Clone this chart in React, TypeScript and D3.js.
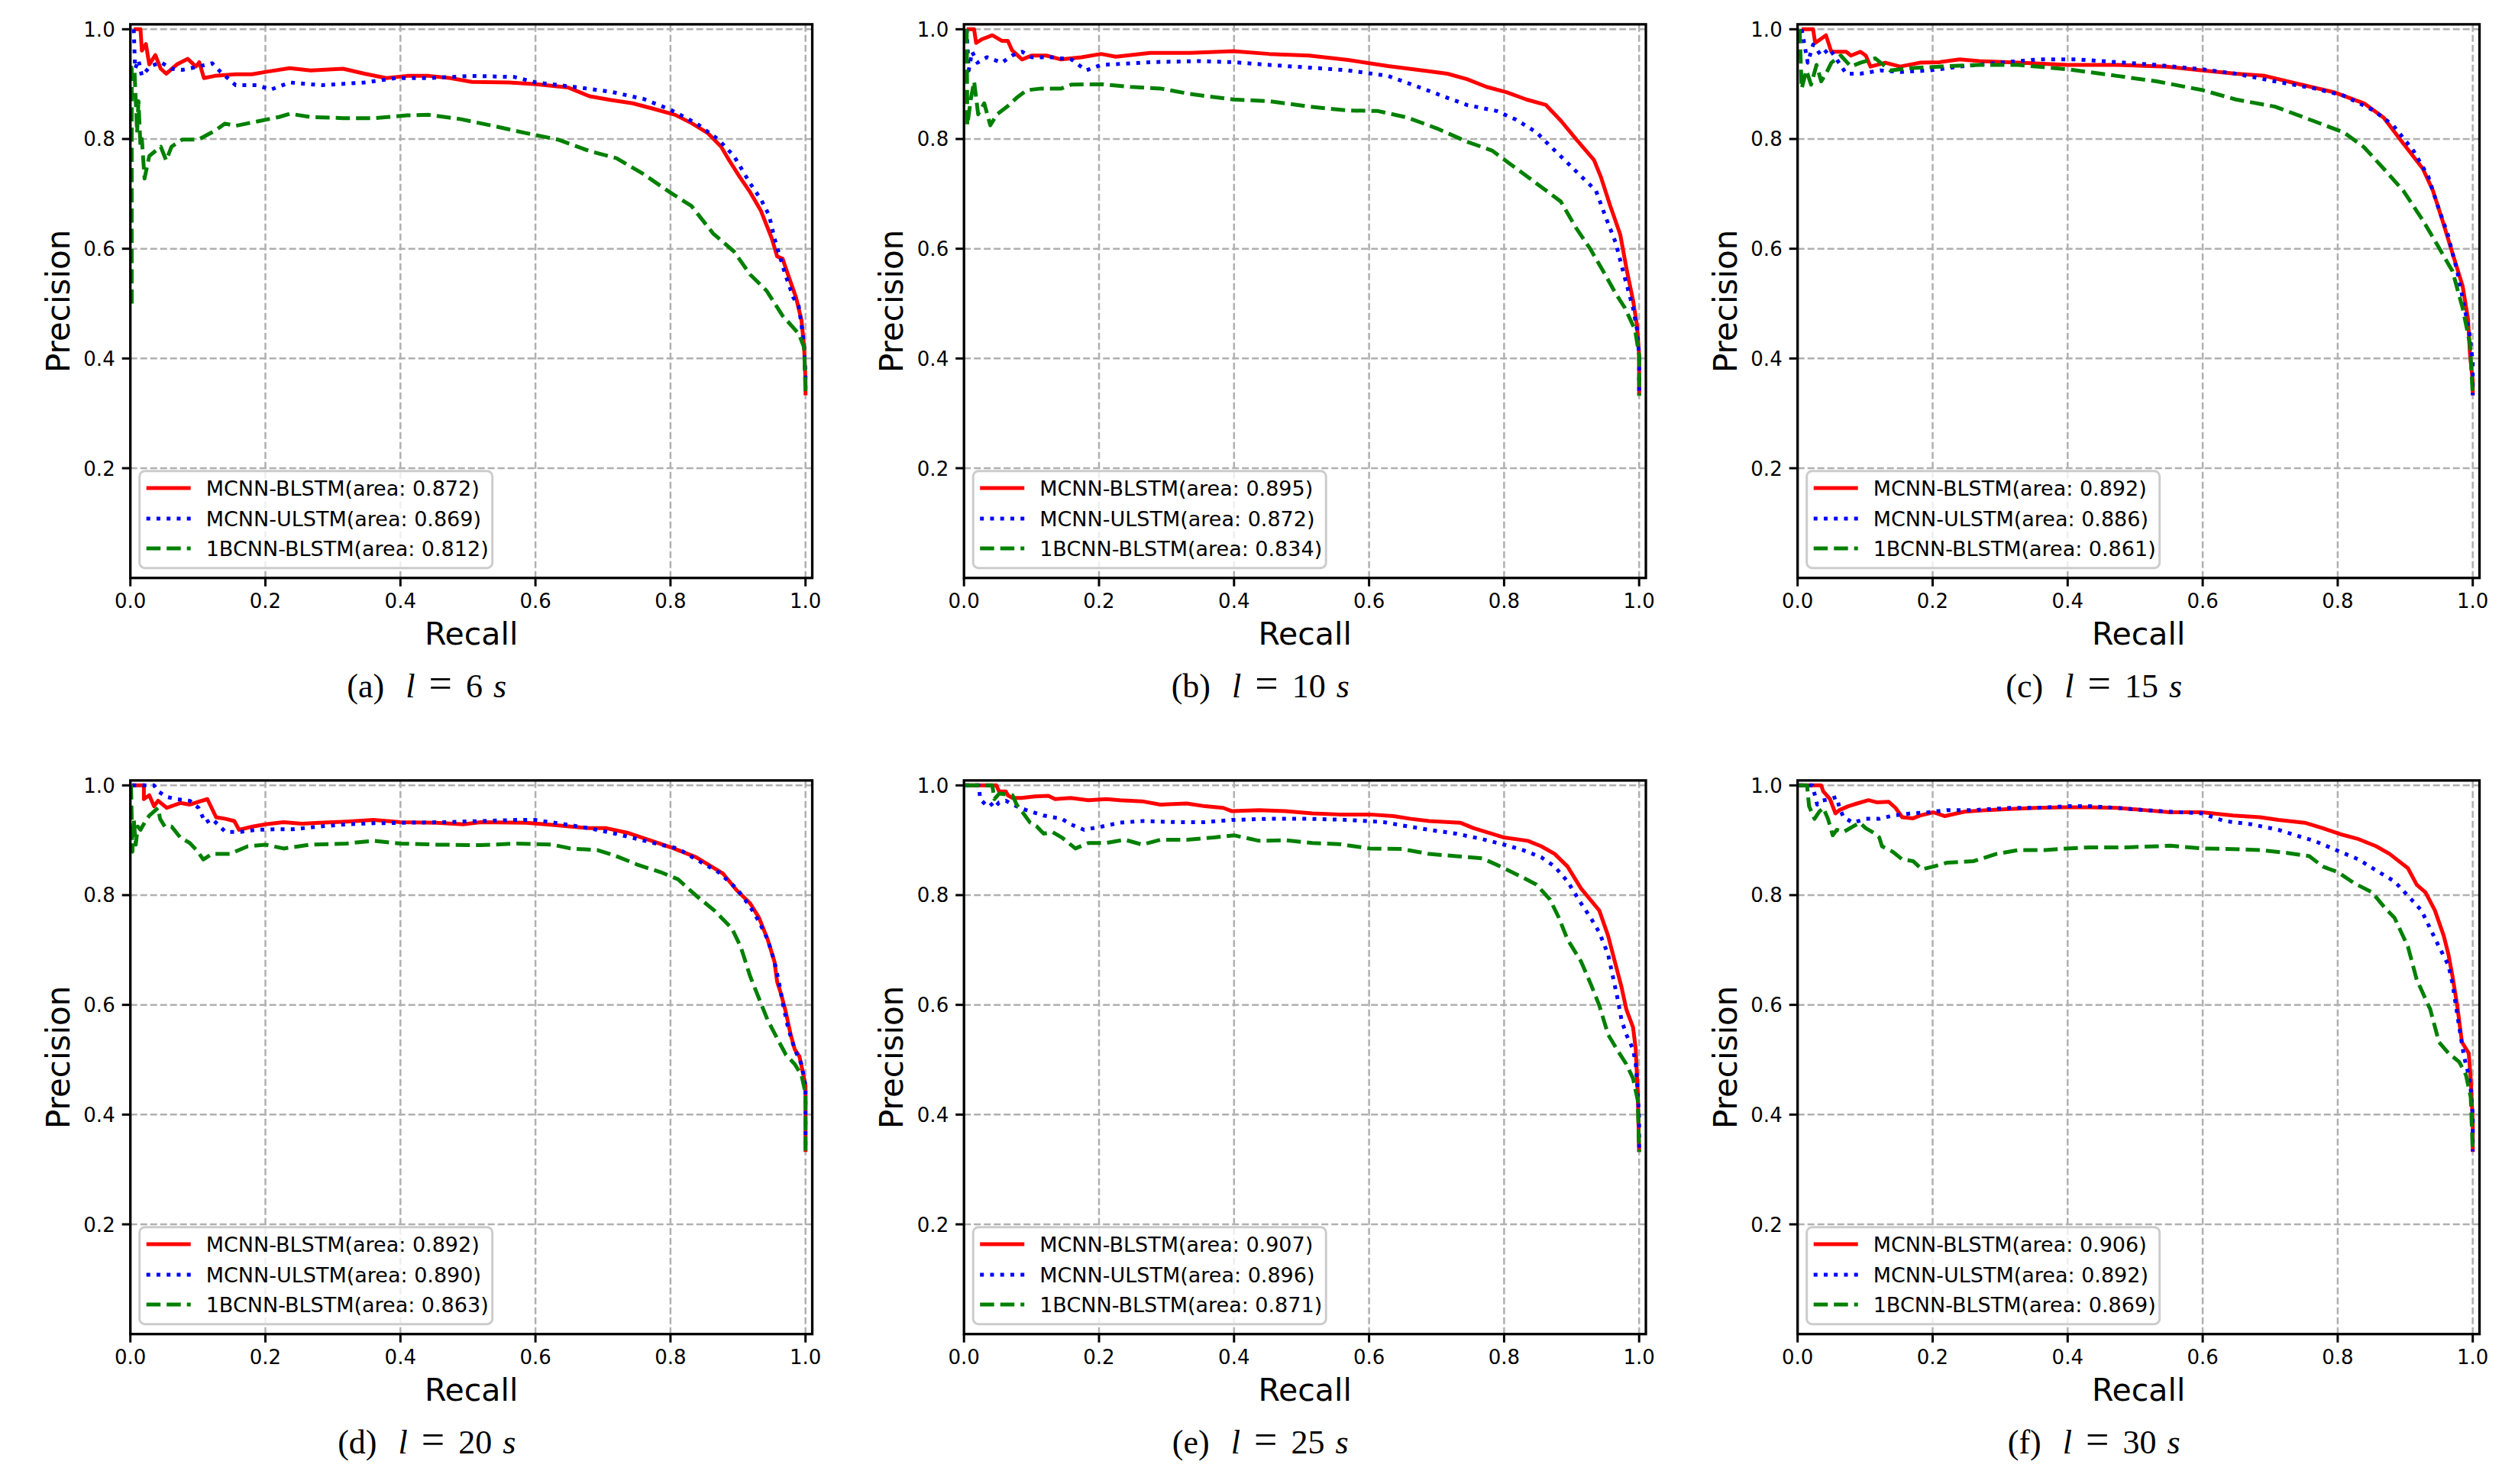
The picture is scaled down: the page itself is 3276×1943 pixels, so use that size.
import React from "react";
import * as d3 from "d3";

type Pt = [number, number];

// ---- tick labels / captions / legends ----
const xTicks = [0, 0.2, 0.4, 0.6, 0.8, 1.0];
const yTicks = [0.2, 0.4, 0.6, 0.8, 1.0];
const panelLetters = ["a", "b", "c", "d", "e", "f"];
const segmentSeconds = [6, 10, 15, 20, 25, 30];
const seriesNames = ["MCNN-BLSTM", "MCNN-ULSTM", "1BCNN-BLSTM"];
const areaBLSTM = [0.872, 0.895, 0.892, 0.892, 0.907, 0.906];
const areaULSTM = [0.869, 0.872, 0.886, 0.89, 0.896, 0.892];
const area1BCNN = [0.812, 0.834, 0.861, 0.863, 0.871, 0.869];

// ---- (a) l = 6 s ----
const a_BLSTM: Pt[] = [[0.005,1],[0.015,1],[0.017,0.961],[0.023,0.973],[0.028,0.936],[0.037,0.953],[0.045,0.928],[0.053,0.919],[0.069,0.936],[0.085,0.946],[0.097,0.932],[0.102,0.94],[0.109,0.911],[0.125,0.915],[0.156,0.918],[0.18,0.918],[0.204,0.923],[0.236,0.929],[0.267,0.925],[0.315,0.928],[0.347,0.919],[0.379,0.911],[0.41,0.915],[0.442,0.915],[0.474,0.911],[0.506,0.904],[0.561,0.903],[0.601,0.9],[0.648,0.894],[0.68,0.878],[0.712,0.871],[0.744,0.865],[0.775,0.855],[0.807,0.844],[0.831,0.829],[0.855,0.811],[0.875,0.786],[0.887,0.761],[0.902,0.732],[0.918,0.703],[0.934,0.669],[0.95,0.619],[0.958,0.586],[0.966,0.582],[0.974,0.553],[0.986,0.511],[0.994,0.47],[0.998,0.42],[1.0,0.357],[1.0,0.333]];
const a_ULSTM: Pt[] = [[0.005,1],[0.007,0.928],[0.012,0.944],[0.017,0.915],[0.029,0.932],[0.045,0.94],[0.061,0.928],[0.077,0.926],[0.101,0.932],[0.121,0.938],[0.133,0.923],[0.156,0.898],[0.188,0.898],[0.208,0.89],[0.236,0.903],[0.283,0.898],[0.347,0.903],[0.394,0.911],[0.442,0.911],[0.506,0.915],[0.569,0.913],[0.601,0.903],[0.664,0.894],[0.712,0.886],[0.76,0.873],[0.799,0.854],[0.839,0.828],[0.871,0.799],[0.894,0.769],[0.918,0.719],[0.934,0.69],[0.946,0.661],[0.954,0.619],[0.962,0.586],[0.97,0.553],[0.982,0.511],[0.99,0.495],[0.995,0.453],[0.998,0.42],[1.0,0.37],[1.0,0.333]];
const a_1BCNN: Pt[] = [[0.002,0.5],[0.002,0.93],[0.006,0.928],[0.01,0.811],[0.012,0.869],[0.015,0.786],[0.017,0.8],[0.021,0.728],[0.028,0.769],[0.037,0.778],[0.045,0.786],[0.053,0.761],[0.061,0.786],[0.077,0.799],[0.101,0.799],[0.125,0.815],[0.14,0.828],[0.156,0.824],[0.188,0.832],[0.22,0.84],[0.236,0.846],[0.267,0.84],[0.315,0.838],[0.363,0.838],[0.41,0.843],[0.442,0.844],[0.49,0.836],[0.537,0.824],[0.585,0.811],[0.633,0.799],[0.68,0.778],[0.72,0.765],[0.76,0.736],[0.799,0.703],[0.831,0.678],[0.863,0.628],[0.894,0.595],[0.918,0.553],[0.942,0.524],[0.966,0.478],[0.99,0.445],[0.998,0.42],[1.0,0.336]];

// ---- (b) l = 10 s ----
const b_BLSTM: Pt[] = [[0.004,1],[0.015,1],[0.018,0.975],[0.027,0.982],[0.042,0.989],[0.056,0.979],[0.065,0.979],[0.071,0.962],[0.086,0.945],[0.1,0.952],[0.122,0.952],[0.144,0.945],[0.174,0.949],[0.203,0.955],[0.225,0.95],[0.276,0.957],[0.335,0.957],[0.399,0.96],[0.452,0.955],[0.511,0.952],[0.569,0.944],[0.628,0.933],[0.686,0.924],[0.716,0.919],[0.745,0.909],[0.774,0.895],[0.804,0.885],[0.833,0.872],[0.862,0.862],[0.885,0.832],[0.907,0.799],[0.933,0.762],[0.943,0.732],[0.957,0.679],[0.972,0.626],[0.982,0.559],[0.991,0.506],[0.997,0.459],[1.0,0.406],[1.0,0.333]];
const b_ULSTM: Pt[] = [[0.004,1],[0.007,0.925],[0.012,0.959],[0.02,0.939],[0.034,0.949],[0.056,0.939],[0.071,0.952],[0.086,0.959],[0.1,0.949],[0.13,0.949],[0.159,0.945],[0.181,0.925],[0.203,0.935],[0.276,0.94],[0.349,0.942],[0.399,0.94],[0.452,0.935],[0.525,0.929],[0.569,0.925],[0.628,0.915],[0.657,0.902],[0.686,0.889],[0.716,0.875],[0.745,0.862],[0.789,0.851],[0.818,0.835],[0.848,0.812],[0.87,0.785],[0.892,0.759],[0.914,0.732],[0.936,0.706],[0.95,0.659],[0.965,0.612],[0.979,0.546],[0.991,0.492],[0.997,0.452],[1.0,0.406],[1.0,0.333]];
const b_1BCNN: Pt[] = [[0.004,1],[0.005,0.825],[0.01,0.872],[0.015,0.905],[0.021,0.845],[0.03,0.865],[0.039,0.825],[0.049,0.845],[0.064,0.859],[0.078,0.875],[0.093,0.889],[0.115,0.892],[0.144,0.892],[0.159,0.899],[0.203,0.9],[0.247,0.895],[0.291,0.892],[0.335,0.882],[0.399,0.872],[0.452,0.869],[0.511,0.859],[0.569,0.852],[0.613,0.851],[0.657,0.839],[0.701,0.819],[0.745,0.795],[0.782,0.779],[0.804,0.759],[0.848,0.719],[0.884,0.686],[0.906,0.639],[0.928,0.599],[0.95,0.552],[0.965,0.519],[0.979,0.492],[0.994,0.452],[1.0,0.406],[1.0,0.332]];

// ---- (c) l = 15 s ----
const c_BLSTM: Pt[] = [[0.006,1],[0.023,1],[0.026,0.975],[0.042,0.989],[0.05,0.959],[0.072,0.959],[0.079,0.952],[0.093,0.959],[0.101,0.952],[0.108,0.932],[0.13,0.939],[0.152,0.932],[0.181,0.939],[0.21,0.94],[0.24,0.945],[0.269,0.942],[0.327,0.939],[0.4,0.935],[0.473,0.935],[0.546,0.932],[0.6,0.925],[0.649,0.919],[0.692,0.915],[0.736,0.902],[0.795,0.885],[0.839,0.865],[0.868,0.839],[0.897,0.792],[0.926,0.746],[0.941,0.706],[0.955,0.652],[0.97,0.592],[0.985,0.532],[0.993,0.472],[0.996,0.406],[1.0,0.359],[1.0,0.333]];
const c_ULSTM: Pt[] = [[0.006,1],[0.015,0.939],[0.023,0.972],[0.035,0.952],[0.047,0.965],[0.058,0.945],[0.072,0.919],[0.093,0.919],[0.123,0.925],[0.152,0.922],[0.196,0.925],[0.24,0.932],[0.298,0.939],[0.356,0.945],[0.415,0.945],[0.473,0.94],[0.532,0.935],[0.6,0.927],[0.649,0.919],[0.707,0.905],[0.766,0.892],[0.809,0.879],[0.853,0.852],[0.882,0.825],[0.912,0.779],[0.934,0.732],[0.948,0.679],[0.963,0.626],[0.977,0.559],[0.988,0.492],[0.996,0.439],[1.0,0.392],[1.0,0.333]];
const c_1BCNN: Pt[] = [[0.003,1],[0.006,0.892],[0.013,0.925],[0.02,0.899],[0.028,0.935],[0.035,0.905],[0.042,0.919],[0.05,0.939],[0.064,0.952],[0.079,0.932],[0.093,0.939],[0.115,0.947],[0.137,0.925],[0.167,0.929],[0.21,0.932],[0.269,0.935],[0.327,0.935],[0.4,0.927],[0.473,0.915],[0.532,0.905],[0.6,0.889],[0.649,0.872],[0.707,0.859],[0.766,0.832],[0.809,0.812],[0.839,0.785],[0.868,0.746],[0.897,0.706],[0.926,0.652],[0.948,0.606],[0.97,0.559],[0.985,0.492],[0.996,0.426],[1.0,0.332]];

// ---- (d) l = 20 s ----
const d_BLSTM: Pt[] = [[0.002,1],[0.02,1],[0.02,0.975],[0.028,0.982],[0.035,0.962],[0.041,0.972],[0.054,0.959],[0.074,0.968],[0.088,0.965],[0.114,0.975],[0.127,0.942],[0.141,0.939],[0.154,0.935],[0.161,0.919],[0.181,0.925],[0.2,0.929],[0.227,0.933],[0.254,0.93],[0.28,0.932],[0.32,0.934],[0.36,0.937],[0.4,0.933],[0.453,0.932],[0.493,0.929],[0.519,0.933],[0.586,0.932],[0.625,0.928],[0.679,0.922],[0.705,0.922],[0.738,0.913],[0.772,0.899],[0.805,0.885],[0.838,0.869],[0.878,0.839],[0.898,0.809],[0.918,0.785],[0.931,0.759],[0.944,0.719],[0.954,0.679],[0.958,0.642],[0.964,0.619],[0.971,0.586],[0.978,0.546],[0.984,0.519],[0.991,0.506],[0.997,0.472],[1.0,0.452],[1.0,0.332]];
const d_ULSTM: Pt[] = [[0.003,1],[0.035,1],[0.041,0.989],[0.054,0.979],[0.068,0.975],[0.088,0.972],[0.101,0.959],[0.111,0.932],[0.121,0.939],[0.141,0.915],[0.161,0.915],[0.187,0.919],[0.214,0.92],[0.24,0.92],[0.28,0.925],[0.32,0.929],[0.36,0.931],[0.413,0.932],[0.466,0.933],[0.519,0.935],[0.572,0.937],[0.599,0.937],[0.639,0.93],[0.679,0.922],[0.718,0.912],[0.752,0.902],[0.785,0.892],[0.811,0.885],[0.838,0.865],[0.871,0.842],[0.898,0.812],[0.918,0.779],[0.931,0.752],[0.944,0.719],[0.954,0.679],[0.961,0.639],[0.967,0.599],[0.974,0.559],[0.984,0.519],[0.994,0.492],[1.0,0.452],[1.0,0.333]];
const d_1BCNN: Pt[] = [[0.001,1],[0.003,0.879],[0.005,0.939],[0.008,0.892],[0.011,0.925],[0.015,0.919],[0.021,0.932],[0.028,0.945],[0.041,0.959],[0.044,0.939],[0.051,0.925],[0.061,0.925],[0.074,0.905],[0.088,0.895],[0.098,0.882],[0.108,0.865],[0.121,0.875],[0.147,0.875],[0.174,0.889],[0.2,0.892],[0.227,0.885],[0.267,0.892],[0.32,0.894],[0.36,0.899],[0.4,0.894],[0.453,0.892],[0.519,0.891],[0.572,0.894],[0.625,0.892],[0.652,0.885],[0.692,0.882],[0.718,0.872],[0.752,0.855],[0.785,0.842],[0.811,0.829],[0.838,0.799],[0.865,0.772],[0.891,0.739],[0.904,0.706],[0.918,0.652],[0.931,0.612],[0.944,0.572],[0.958,0.539],[0.971,0.509],[0.984,0.492],[0.994,0.472],[1.0,0.439],[1.0,0.332]];

// ---- (e) l = 25 s ----
const e_BLSTM: Pt[] = [[0.002,1],[0.048,1],[0.052,0.989],[0.062,0.989],[0.065,0.982],[0.072,0.977],[0.085,0.977],[0.105,0.98],[0.125,0.981],[0.135,0.975],[0.158,0.977],[0.184,0.973],[0.211,0.975],[0.231,0.973],[0.264,0.971],[0.291,0.965],[0.33,0.967],[0.357,0.962],[0.384,0.959],[0.397,0.953],[0.437,0.955],[0.476,0.953],[0.516,0.949],[0.556,0.947],[0.601,0.947],[0.636,0.944],[0.662,0.939],[0.689,0.935],[0.735,0.932],[0.755,0.922],[0.782,0.912],[0.8,0.905],[0.835,0.899],[0.855,0.889],[0.875,0.875],[0.894,0.852],[0.914,0.812],[0.941,0.772],[0.954,0.726],[0.964,0.679],[0.974,0.632],[0.981,0.592],[0.991,0.559],[0.995,0.519],[0.998,0.439],[1.0,0.332]];
const e_ULSTM: Pt[] = [[0.002,1],[0.022,1],[0.024,0.975],[0.032,0.965],[0.038,0.969],[0.045,0.959],[0.052,0.969],[0.062,0.972],[0.072,0.965],[0.092,0.955],[0.118,0.945],[0.145,0.939],[0.158,0.929],[0.178,0.919],[0.204,0.925],[0.231,0.932],[0.264,0.935],[0.317,0.933],[0.357,0.933],[0.397,0.937],[0.45,0.939],[0.516,0.939],[0.569,0.937],[0.622,0.933],[0.649,0.927],[0.689,0.919],[0.729,0.912],[0.768,0.902],[0.8,0.892],[0.828,0.882],[0.855,0.869],[0.875,0.852],[0.894,0.825],[0.914,0.785],[0.928,0.759],[0.941,0.732],[0.954,0.692],[0.961,0.652],[0.968,0.612],[0.974,0.572],[0.981,0.546],[0.991,0.519],[0.995,0.492],[0.998,0.439],[1.0,0.392],[1.0,0.333]];
const e_1BCNN: Pt[] = [[0.002,1],[0.042,1],[0.045,0.975],[0.052,0.985],[0.072,0.982],[0.078,0.965],[0.088,0.949],[0.098,0.932],[0.108,0.925],[0.118,0.912],[0.131,0.915],[0.145,0.905],[0.158,0.892],[0.165,0.885],[0.184,0.895],[0.211,0.895],[0.238,0.901],[0.264,0.892],[0.291,0.901],[0.33,0.901],[0.37,0.905],[0.4,0.909],[0.437,0.899],[0.476,0.9],[0.516,0.895],[0.556,0.893],[0.601,0.885],[0.649,0.884],[0.689,0.875],[0.729,0.871],[0.768,0.867],[0.8,0.849],[0.828,0.832],[0.848,0.819],[0.868,0.792],[0.881,0.759],[0.894,0.719],[0.914,0.679],[0.928,0.639],[0.941,0.599],[0.954,0.546],[0.967,0.519],[0.981,0.492],[0.991,0.466],[0.998,0.426],[1.0,0.332]];

// ---- (f) l = 30 s ----
const f_BLSTM: Pt[] = [[0.002,1],[0.035,1],[0.038,0.989],[0.048,0.975],[0.056,0.949],[0.062,0.955],[0.075,0.962],[0.088,0.967],[0.105,0.973],[0.118,0.969],[0.135,0.97],[0.145,0.959],[0.155,0.942],[0.171,0.94],[0.181,0.945],[0.201,0.951],[0.218,0.944],[0.247,0.952],[0.281,0.955],[0.314,0.957],[0.353,0.959],[0.393,0.96],[0.433,0.96],[0.473,0.959],[0.513,0.955],[0.552,0.951],[0.599,0.951],[0.645,0.945],[0.685,0.942],[0.712,0.937],[0.751,0.932],[0.778,0.922],[0.804,0.911],[0.831,0.902],[0.857,0.889],[0.877,0.875],[0.904,0.849],[0.917,0.819],[0.93,0.805],[0.944,0.772],[0.957,0.726],[0.964,0.692],[0.97,0.652],[0.977,0.599],[0.984,0.532],[0.994,0.512],[0.997,0.466],[1.0,0.386],[1.0,0.332]];
const f_ULSTM: Pt[] = [[0.002,1],[0.022,1],[0.029,0.965],[0.035,0.972],[0.048,0.975],[0.058,0.979],[0.062,0.959],[0.068,0.942],[0.082,0.932],[0.101,0.939],[0.121,0.939],[0.141,0.945],[0.168,0.949],[0.194,0.951],[0.221,0.955],[0.261,0.955],[0.314,0.959],[0.353,0.959],[0.399,0.962],[0.433,0.962],[0.473,0.959],[0.513,0.955],[0.552,0.952],[0.599,0.949],[0.632,0.935],[0.672,0.929],[0.712,0.919],[0.738,0.909],[0.765,0.899],[0.798,0.882],[0.831,0.865],[0.857,0.845],[0.884,0.825],[0.904,0.799],[0.924,0.772],[0.937,0.739],[0.95,0.706],[0.964,0.672],[0.97,0.639],[0.975,0.599],[0.98,0.559],[0.987,0.506],[0.994,0.472],[0.997,0.446],[1.0,0.399],[1.0,0.333]];
const f_1BCNN: Pt[] = [[0.002,1],[0.014,1],[0.017,0.962],[0.025,0.939],[0.032,0.952],[0.038,0.959],[0.045,0.939],[0.052,0.909],[0.058,0.919],[0.068,0.915],[0.082,0.925],[0.092,0.932],[0.101,0.922],[0.115,0.912],[0.121,0.905],[0.125,0.889],[0.141,0.879],[0.155,0.865],[0.171,0.862],[0.184,0.847],[0.201,0.852],[0.221,0.859],[0.261,0.862],[0.294,0.875],[0.327,0.882],[0.367,0.882],[0.399,0.885],[0.433,0.887],[0.486,0.887],[0.552,0.89],[0.599,0.885],[0.645,0.884],[0.685,0.882],[0.725,0.877],[0.758,0.871],[0.778,0.852],[0.8,0.842],[0.824,0.822],[0.851,0.805],[0.871,0.775],[0.884,0.759],[0.904,0.706],[0.917,0.646],[0.937,0.592],[0.95,0.532],[0.964,0.512],[0.98,0.496],[0.99,0.472],[0.997,0.432],[1.0,0.332]];

const panelSeries: Pt[][][] = [
  [a_BLSTM, a_ULSTM, a_1BCNN],
  [b_BLSTM, b_ULSTM, b_1BCNN],
  [c_BLSTM, c_ULSTM, c_1BCNN],
  [d_BLSTM, d_ULSTM, d_1BCNN],
  [e_BLSTM, e_ULSTM, e_1BCNN],
  [f_BLSTM, f_ULSTM, f_1BCNN],
];

// ---- styling ----
const W = 3276;
const H = 1943;
const colX0 = [170.7, 1262.2, 2353.7];
const rowY0 = [756.7, 1746.7];
const unitW = 884;
const unitH = 718.4;
const xMax = 1.01;
const yMax = 1.009;
const LW = 5;
const seriesStyle = [
  { color: "#ff0000", dash: "none" },
  { color: "#0000ff", dash: `${LW} ${LW * 1.65}` },
  { color: "#008000", dash: `${LW * 3.7} ${LW * 1.6}` },
];
const sans = "'DejaVu Sans', sans-serif";
const serif = "'Liberation Serif', 'DejaVu Serif', serif";

function Panel({ idx }: { idx: number }) {
  const col = idx % 3;
  const row = Math.floor(idx / 3);
  const x0 = colX0[col];
  const y0 = rowY0[row];
  const x = d3.scaleLinear().domain([0, xMax]).range([x0, x0 + unitW * xMax]);
  const y = d3.scaleLinear().domain([0, yMax]).range([y0, y0 - unitH * yMax]);
  const [xl, xr] = x.range();
  const yb = y(0);
  const yt = y(yMax);
  const line = d3
    .line<Pt>()
    .x((d) => x(d[0]))
    .y((d) => y(d[1]));
  const clipId = `clip-${idx}`;
  const areas = [areaBLSTM[idx], areaULSTM[idx], area1BCNN[idx]];
  const legX = xl + 12;
  const legTop = yb - 140;
  const rowOffsets = [117.7, 77.7, 38.7];
  const capCx = xl + 388;
  const capY = row === 0 ? 913 : 1903;
  return (
    <g>
      <defs>
        <clipPath id={clipId}>
          <rect x={xl} y={yt} width={xr - xl} height={yb - yt} />
        </clipPath>
      </defs>
      {/* grid */}
      <g stroke="#b0b0b0" strokeWidth={2.5} strokeDasharray="9 4">
        {xTicks.filter((t) => t > 0).map((t) => (
          <line key={`gx${t}`} x1={x(t)} x2={x(t)} y1={yb} y2={yt} />
        ))}
        {yTicks.map((t) => (
          <line key={`gy${t}`} x1={xl} x2={xr} y1={y(t)} y2={y(t)} />
        ))}
      </g>
      {/* curves */}
      <g clipPath={`url(#${clipId})`} fill="none">
        {panelSeries[idx].map((s, i) => (
          <path
            key={i}
            d={line(s) || ""}
            stroke={seriesStyle[i].color}
            strokeWidth={LW}
            strokeDasharray={seriesStyle[i].dash}
            strokeLinejoin="round"
          />
        ))}
      </g>
      {/* spines */}
      <rect x={xl} y={yt} width={xr - xl} height={yb - yt} fill="none" stroke="#000" strokeWidth={3.3} />
      {/* ticks */}
      <g stroke="#000" strokeWidth={3}>
        {xTicks.map((t) => (
          <line key={`tx${t}`} x1={x(t)} x2={x(t)} y1={yb} y2={yb + 11} />
        ))}
        {yTicks.map((t) => (
          <line key={`ty${t}`} x1={xl} x2={xl - 11} y1={y(t)} y2={y(t)} />
        ))}
      </g>
      <g fontFamily={sans} fontSize={26} fill="#000">
        {xTicks.map((t) => (
          <text key={`lx${t}`} x={x(t)} y={yb + 39.5} textAnchor="middle">
            {d3.format(".1f")(t)}
          </text>
        ))}
        {yTicks.map((t) => (
          <text key={`ly${t}`} x={xl - 20} y={y(t) + 9.5} textAnchor="end">
            {d3.format(".1f")(t)}
          </text>
        ))}
      </g>
      {/* axis labels */}
      <text x={(xl + xr) / 2} y={yb + 87} textAnchor="middle" fontFamily={sans} fontSize={41}>
        Recall
      </text>
      <text
        transform={`translate(${xl - 80},${(yb + yt) / 2}) rotate(-90)`}
        textAnchor="middle"
        fontFamily={sans}
        fontSize={42}
      >
        Precision
      </text>
      {/* legend */}
      <g>
        <rect
          x={legX}
          y={legTop}
          width={462}
          height={127}
          rx={7}
          fill="#ffffff"
          fillOpacity={0.8}
          stroke="#cccccc"
          strokeWidth={3}
        />
        {seriesNames.map((n, i) => {
          const cy = yb - rowOffsets[i];
          return (
            <g key={n}>
              <line
                x1={xl + 21}
                x2={xl + 79}
                y1={cy}
                y2={cy}
                stroke={seriesStyle[i].color}
                strokeWidth={LW}
                strokeDasharray={seriesStyle[i].dash}
              />
              <text x={xl + 99} y={cy + 10} fontFamily={sans} fontSize={27} fill="#000">
                {`${n}(area: ${d3.format(".3f")(areas[i])})`}
              </text>
            </g>
          );
        })}
      </g>
      {/* caption */}
      <text x={capCx} y={capY} textAnchor="middle" fontFamily={serif} fontSize={44} fill="#000">
        <tspan>{`(${panelLetters[idx]})`}</tspan>
        <tspan dx={28} fontStyle="italic">l</tspan>
        <tspan dx={18} fontSize={54}>=</tspan>
        <tspan dx={18}>{segmentSeconds[idx]}</tspan>
        <tspan dx={14} fontStyle="italic">s</tspan>
      </text>
    </g>
  );
}

export default function App() {
  return (
    <svg
      width={W}
      height={H}
      viewBox={`0 0 ${W} ${H}`}
      style={{ position: "absolute", left: 0, top: 0, display: "block", background: "#fff" }}
    >
      <rect x={0} y={0} width={W} height={H} fill="#fff" />
      {panelLetters.map((_, i) => (
        <Panel key={i} idx={i} />
      ))}
    </svg>
  );
}
